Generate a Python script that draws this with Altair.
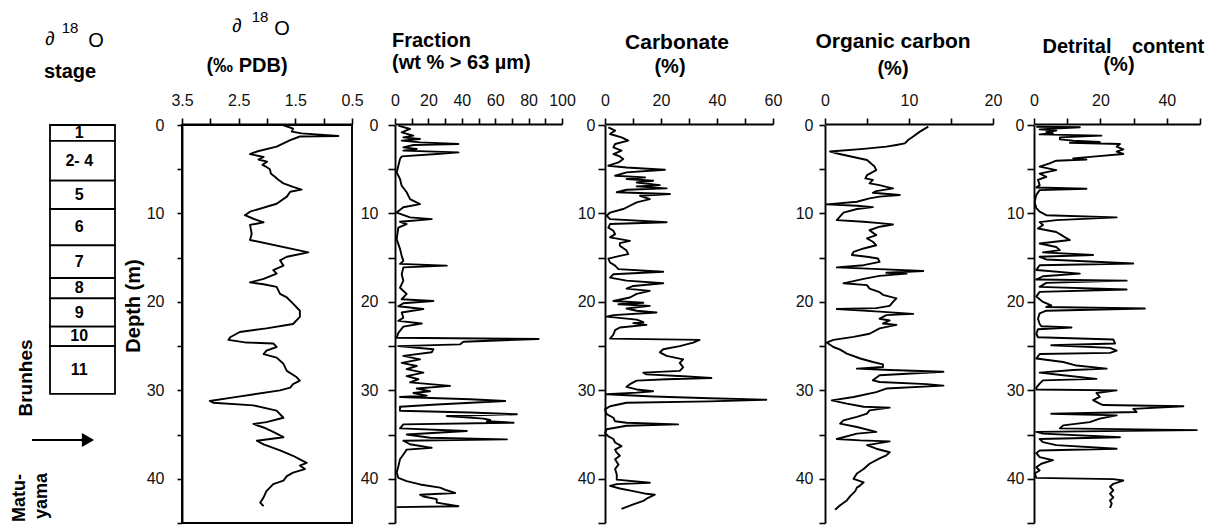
import altair as alt
import pandas as pd

FONT = "Liberation Sans"

# Oxygen-isotope stages (depth intervals in m)
stage_names = ["1", "2- 4", "5", "6", "7", "8", "9", "10", "11"]
stage_top = [0.0, 1.8, 6.3, 9.5, 13.6, 17.3, 19.6, 22.8, 25.0]
stage_bottom = [1.8, 6.3, 9.5, 13.6, 17.3, 19.6, 22.8, 25.0, 30.4]

# Down-core profiles: (depth m, value)
d18o = [
    (0.0, 1.72), (0.4, 1.54), (0.75, 1.56), (0.95, 1.39), (1.25, 0.74), (1.3, 1.42),
    (1.7, 1.59), (2.45, 1.83), (3.0, 2.18), (3.3, 2.30), (3.6, 2.06), (3.9, 2.15),
    (4.15, 2.00), (4.5, 2.08), (4.7, 2.02), (5.0, 1.95), (5.5, 1.93), (5.9, 1.85),
    (6.2, 1.80), (6.6, 1.71), (7.0, 1.54), (7.3, 1.39), (7.55, 1.59), (8.1, 1.65),
    (8.9, 1.83), (9.8, 2.30), (10.2, 2.39), (10.6, 2.24), (11.0, 2.06), (11.3, 2.30),
    (12.3, 2.27), (13.0, 2.30), (14.4, 1.27), (14.9, 1.65), (15.3, 1.77), (15.9, 1.71),
    (16.4, 1.89), (16.8, 1.83), (17.4, 2.06), (17.8, 2.30), (18.0, 2.06), (18.3, 1.83),
    (19.1, 1.77), (19.5, 1.65), (20.2, 1.54), (21.0, 1.42), (21.7, 1.42), (22.5, 1.54),
    (23.0, 2.01), (23.4, 2.48), (24.0, 2.65), (24.3, 2.68), (24.6, 2.36), (24.7, 1.89),
    (25.1, 1.83), (25.5, 2.01), (25.9, 2.06), (26.3, 1.83), (27.0, 1.71), (27.8, 1.65),
    (28.5, 1.48), (28.9, 1.42), (29.3, 1.54), (29.7, 1.59), (30.0, 1.77), (30.8, 2.59),
    (31.2, 3.01), (31.4, 2.95), (31.7, 2.24), (32.3, 1.83), (33.1, 1.71), (33.6, 2.01),
    (33.8, 2.24), (34.2, 2.06), (34.7, 1.89), (35.3, 1.71), (35.7, 2.18), (36.1, 2.06),
    (36.8, 1.77), (37.4, 1.54), (37.8, 1.42), (38.2, 1.30), (38.5, 1.42), (38.9, 1.33),
    (39.3, 1.54), (39.7, 1.65), (40.2, 1.71), (40.6, 1.89), (41.4, 2.01), (42.1, 2.06),
    (42.7, 2.12), (43.1, 2.06),
]

fraction = [
    (0.08, 2), (0.45, 9), (0.83, 4), (1.2, 11), (1.4, 5), (1.58, 15), (1.77, 4),
    (1.96, 15), (2.15, 38), (2.26, 11), (2.53, 5), (2.72, 13), (2.9, 5), (3.1, 38),
    (3.28, 25), (3.55, 4), (3.85, 3), (4.6, 2), (5.36, 1), (6.1, 3), (6.87, 4),
    (7.6, 7), (8.38, 9), (8.94, 15), (9.3, 5), (9.9, 1), (10.45, 9), (10.64, 22),
    (10.94, 3), (11.2, 7), (11.6, 2), (12.9, 1), (14.0, 3), (14.8, 4), (15.36, 5),
    (15.7, 3), (15.9, 31), (16.1, 5), (16.87, 4), (17.6, 5), (18.4, 3), (19.1, 7),
    (19.7, 4), (19.9, 23), (20.15, 5), (20.5, 2), (20.8, 17), (21.2, 4), (21.8, 5),
    (22.15, 2), (22.45, 16), (22.8, 5), (23.5, 2), (24.05, 1), (24.2, 86), (24.5, 41),
    (24.8, 39), (25.0, 2), (25.36, 23), (25.7, 22), (26.1, 5), (26.5, 15), (26.9, 4),
    (27.25, 13), (27.6, 7), (28.0, 17), (28.4, 7), (28.75, 14), (29.1, 9), (29.5, 33),
    (29.8, 13), (30.1, 21), (30.3, 11), (30.6, 19), (30.75, 3), (31.0, 45), (31.2, 66),
    (31.6, 25), (31.85, 3), (32.3, 3), (32.5, 45), (32.7, 73), (32.9, 31), (33.2, 53),
    (33.36, 57), (33.5, 55), (33.66, 71), (33.85, 5), (34.3, 3), (34.6, 43), (34.8, 25),
    (35.0, 7), (35.36, 21), (35.55, 67), (35.7, 5), (36.1, 9), (36.5, 22), (36.7, 7),
    (37.25, 5), (37.8, 3), (38.6, 2), (39.3, 1), (39.9, 2), (40.26, 7), (40.64, 15),
    (41.0, 27), (41.3, 31), (41.6, 36), (41.8, 15), (42.0, 17), (42.3, 25), (42.7, 25),
    (43.1, 38), (43.2, 1),
]

carbonate = [
    (0.26, 1.2), (0.64, 3.6), (1.02, 1.8), (1.4, 5.9), (1.77, 8.3), (2.15, 3.6),
    (2.53, 3.0), (2.9, 5.9), (3.28, 3.0), (3.55, 5.3), (3.85, 6.5), (4.23, 4.8),
    (4.6, 1.2), (4.8, 7.7), (5.06, 21.4), (5.36, 7.7), (5.74, 3.6), (5.92, 14.3),
    (6.1, 7.7), (6.3, 17.2), (6.5, 11.3), (6.8, 19.6), (6.94, 11.3), (7.17, 22.0),
    (7.32, 7.7), (7.6, 4.2), (7.8, 23.2), (8.0, 12.5), (8.38, 16.0), (8.75, 11.3),
    (9.13, 8.9), (9.5, 6.5), (9.9, 1.8), (10.26, 0.6), (10.64, 1.8), (11.0, 22.0),
    (11.2, 1.8), (11.6, 1.2), (11.96, 3.0), (12.34, 3.6), (12.7, 1.8), (13.1, 8.9),
    (13.36, 5.3), (13.66, 5.3), (14.2, 7.7), (14.6, 8.3), (14.8, 5.3), (15.1, 1.2),
    (15.55, 1.8), (15.9, 3.6), (16.3, 4.8), (16.6, 20.8), (16.87, 3.0), (17.25, 1.8),
    (17.6, 7.7), (17.9, 20.8), (18.2, 10.1), (18.5, 7.7), (18.75, 16.0), (19.1, 11.3),
    (19.5, 8.9), (19.9, 3.0), (20.1, 13.7), (20.26, 4.8), (20.45, 16.0), (20.75, 7.7),
    (21.0, 11.3), (21.2, 18.4), (21.5, 3.0), (21.66, 0.6), (22.0, 11.3), (22.3, 13.7),
    (22.4, 10.1), (22.6, 14.8), (22.9, 5.3), (23.2, 3.6), (23.7, 3.0), (24.15, 1.8),
    (24.3, 33.8), (24.6, 31.5), (25.0, 26.7), (25.36, 20.8), (25.7, 19.6), (26.1, 22.0),
    (26.5, 27.9), (26.9, 26.7), (27.4, 27.9), (27.8, 26.7), (28.0, 13.7), (28.2, 14.8),
    (28.4, 27.9), (28.6, 38.0), (28.75, 22.0), (28.9, 11.3), (29.3, 8.9), (29.6, 7.7),
    (29.9, 11.3), (30.1, 17.2), (30.26, 11.3), (30.45, 0.6), (30.7, 17.2), (30.9, 37.4),
    (31.06, 57.6), (31.25, 37.4), (31.4, 7.7), (31.8, 1.8), (32.15, 0.0), (32.7, 0.6),
    (33.1, 3.0), (33.5, 3.6), (33.66, 7.7), (33.85, 26.1), (34.0, 7.7), (34.4, 0.6),
    (34.8, 0.0), (35.2, 1.2), (35.5, 3.0), (35.9, 3.6), (36.3, 5.9), (36.7, 3.6),
    (37.05, 4.2), (37.4, 5.3), (37.8, 3.6), (38.4, 4.8), (38.9, 3.6), (39.5, 4.2),
    (40.1, 4.2), (40.45, 16.0), (40.6, 4.2), (40.8, 1.8), (41.1, 5.3), (41.4, 10.1),
    (41.7, 14.8), (41.8, 17.8), (42.15, 15.4), (42.5, 13.7), (42.9, 10.1), (43.4, 5.9),
]

organic_carbon = [
    (0.19, 12.3), (0.75, 11.3), (1.3, 10.5), (1.7, 9.9), (2.08, 9.5), (2.26, 8.5),
    (2.45, 7.3), (2.7, 4.6), (3.0, 0.6), (3.25, 1.6), (3.96, 5.0), (4.7, 5.9),
    (5.1, 6.1), (5.66, 5.0), (6.04, 4.8), (6.2, 5.7), (6.6, 5.3), (6.8, 6.5),
    (7.0, 7.3), (7.17, 8.1), (7.47, 6.1), (7.66, 5.7), (7.92, 8.9), (8.1, 6.5),
    (8.3, 5.3), (8.68, 3.8), (8.98, 0.2), (9.13, 3.8), (9.28, 5.7), (9.5, 3.8),
    (9.9, 2.2), (10.75, 1.4), (10.94, 4.6), (11.1, 6.5), (11.25, 8.1), (11.5, 6.5),
    (11.9, 5.3), (12.45, 6.1), (12.83, 5.0), (13.2, 5.7), (13.6, 6.1), (13.96, 4.6),
    (14.34, 3.4), (14.7, 3.2), (14.9, 5.0), (15.1, 6.3), (15.47, 6.5), (15.85, 4.6),
    (16.1, 1.4), (16.3, 6.5), (16.5, 11.7), (16.7, 7.3), (16.8, 9.7), (17.06, 6.5),
    (17.4, 4.6), (17.9, 2.2), (18.1, 5.0), (18.5, 5.3), (18.9, 6.5), (19.2, 6.9),
    (19.4, 7.7), (19.6, 8.5), (20.0, 8.1), (20.45, 7.7), (20.7, 6.1), (20.8, 1.4),
    (21.1, 6.5), (21.36, 10.5), (21.5, 7.3), (21.9, 6.5), (22.1, 7.7), (22.45, 6.9),
    (22.6, 8.5), (23.0, 6.5), (23.6, 5.3), (23.96, 3.4), (24.3, 1.0), (24.6, 0.2),
    (25.1, 1.0), (25.4, 1.8), (25.85, 2.6), (26.4, 4.2), (26.8, 5.7), (27.06, 6.9),
    (27.36, 6.9), (27.55, 3.8), (27.7, 7.7), (27.9, 14.1), (28.3, 6.5), (28.87, 5.7),
    (29.06, 6.5), (29.3, 12.1), (29.47, 14.1), (29.8, 7.3), (30.2, 6.1), (30.75, 3.4),
    (31.13, 0.8), (31.5, 2.6), (31.85, 4.6), (31.96, 7.7), (32.26, 5.3), (32.64, 5.0),
    (33.0, 3.8), (33.4, 2.2), (33.77, 1.8), (34.15, 3.8), (34.7, 6.1), (34.9, 3.8),
    (35.5, 1.4), (35.66, 4.2), (35.77, 7.7), (36.2, 5.0), (36.6, 6.1), (37.0, 7.7),
    (37.36, 7.3), (37.7, 6.5), (38.3, 5.3), (38.9, 4.6), (39.4, 3.8), (40.0, 3.4),
    (40.4, 4.6), (40.75, 4.2), (41.0, 3.8), (41.4, 3.6), (41.96, 3.0), (42.45, 2.6),
    (43.0, 1.8), (43.5, 1.2),
]

detrital = [
    (0.19, 0.7), (0.26, 13.8), (0.5, 1.7), (0.64, 6.7), (0.8, 3.7), (0.94, 5.7),
    (1.06, 1.7), (1.2, 20.3), (1.4, 7.8), (1.62, 7.8), (1.77, 11.8), (1.92, 19.8),
    (2.0, 10.8), (2.15, 25.9), (2.45, 24.9), (2.75, 26.9), (3.0, 24.9), (3.28, 26.9),
    (3.58, 17.8), (3.77, 11.8), (3.9, 15.8), (4.04, 6.7), (4.34, 4.7), (4.7, 1.7),
    (5.1, 6.7), (5.5, 1.7), (5.85, 3.7), (6.2, 1.2), (6.8, 1.7), (7.06, 0.7),
    (7.2, 15.8), (7.36, 1.7), (7.9, 0.7), (8.7, 0.2), (9.4, 0.7), (9.8, 1.7),
    (10.2, 3.7), (10.45, 24.9), (10.75, 6.7), (10.98, 1.7), (11.3, 2.7), (11.7, 1.2),
    (12.1, 6.7), (12.45, 8.3), (12.8, 9.8), (13.0, 10.8), (13.4, 1.7), (13.8, 6.7),
    (14.15, 7.8), (14.4, 2.7), (14.7, 17.8), (14.9, 1.7), (15.2, 3.7), (15.66, 29.9),
    (15.85, 1.7), (16.4, 0.7), (16.8, 13.8), (17.1, 2.7), (17.47, 0.7), (17.6, 27.9),
    (17.85, 3.7), (18.3, 1.7), (18.6, 27.9), (18.87, 1.7), (19.4, 0.7), (20.0, 2.7),
    (20.4, 5.2), (20.57, 3.7), (20.75, 33.4), (21.0, 3.7), (21.3, 1.7), (21.9, 1.2),
    (22.5, 1.7), (22.75, 2.2), (22.9, 11.3), (23.1, 1.2), (23.6, 0.7), (24.0, 1.2),
    (24.26, 23.9), (24.7, 24.4), (24.9, 5.2), (25.2, 22.9), (25.5, 24.9), (25.77, 22.9),
    (25.9, 1.7), (26.4, 0.7), (26.8, 8.8), (27.2, 12.8), (27.55, 21.9), (27.7, 11.8),
    (28.0, 1.7), (28.3, 8.8), (28.7, 18.8), (28.87, 2.7), (29.25, 1.7), (29.7, 0.7),
    (29.9, 0.7), (30.0, 24.9), (30.3, 18.8), (30.75, 19.8), (31.1, 17.8), (31.5, 19.8),
    (31.66, 20.8), (31.8, 45.0), (32.1, 29.9), (32.45, 30.9), (32.64, 5.2), (32.83, 24.9),
    (33.2, 19.8), (33.6, 16.8), (33.96, 8.8), (34.3, 7.8), (34.5, 49.0), (34.7, 0.7),
    (34.9, 2.7), (35.3, 25.9), (35.5, 1.7), (35.85, 2.7), (36.2, 6.7), (36.6, 24.9),
    (36.8, 1.7), (37.1, 0.7), (37.55, 1.7), (37.9, 5.7), (38.3, 2.2), (38.7, 0.7),
    (39.06, 1.7), (39.4, 0.2), (39.9, 0.7), (40.04, 23.9), (40.2, 26.9), (40.57, 23.9),
    (40.9, 22.9), (41.3, 23.9), (41.7, 22.9), (42.1, 23.9), (42.45, 22.9), (42.8, 23.4),
    (43.3, 22.9),
]

depth_ticks = [0, 5, 10, 15, 20, 25, 30, 35, 40, 45]
one_row = pd.DataFrame({"k": [0]})

AXIS_STYLE = dict(
    title=None, grid=False, labelFlush=False, labelOverlap=False,
    domainColor="black", domainWidth=1.9, tickColor="black", tickWidth=1.6,
    labelColor="#111111", labelFont=FONT, labelFontSize=16,
)


def depth_scale():
    return alt.Scale(domain=[0, 45], range=[125, 523], nice=False, zero=False)


def profile(pairs):
    return pd.DataFrame({
        "i": list(range(len(pairs))),
        "depth": [p[0] for p in pairs],
        "value": [p[1] for p in pairs],
    })


def panel(pairs, xscale, xticks, xlabel_expr, fmt, left, tick, pad):
    x_axis = alt.Axis(orient="top", offset=-124, values=xticks, labelExpr=xlabel_expr,
                      format=fmt, tickSize=6, labelPadding=10, **AXIS_STYLE)
    y_axis = alt.Axis(orient="left", offset=-left, values=depth_ticks,
                      labelExpr="datum.value % 10 == 0 ? datum.label : ''",
                      format="d", tickSize=tick, labelPadding=pad, **AXIS_STYLE)
    return alt.Chart(profile(pairs)).mark_line(
        color="black", strokeWidth=1.9, strokeJoin="round"
    ).encode(
        x=alt.X("value:Q", scale=xscale, axis=x_axis),
        y=alt.Y("depth:Q", scale=depth_scale(), axis=y_axis),
        order="i:Q",
    )


def text(s, x, y, size=20, weight="bold", align="center", angle=0):
    return alt.Chart(one_row).mark_text(
        text=s, font=FONT, fontSize=size, fontWeight=weight, align=align,
        baseline="alphabetic", angle=angle, color="black",
    ).encode(x=alt.value(x), y=alt.value(y))


d18o_scale = alt.Scale(domain=[0.5, 3.5], range=[352, 182], nice=False, zero=False)
stage_scale = alt.Scale(domain=[0, 1], range=[50, 115], nice=False, zero=False)

p1 = panel(d18o, d18o_scale, [0.5, 1.0, 1.5, 2.0, 2.5, 3.0, 3.5],
           "(datum.value * 2) % 2 == 1 ? datum.label : ''", ".1f", 182, 5, 13)
p2 = panel(fraction, alt.Scale(domain=[0, 100], range=[395, 562], nice=False, zero=False),
           list(range(0, 101, 10)), "datum.value % 20 == 0 ? datum.label : ''", "d", 395, 7, 10)
p3 = panel(carbonate, alt.Scale(domain=[0, 60], range=[605, 773], nice=False, zero=False),
           list(range(0, 61, 10)), "datum.value % 20 == 0 ? datum.label : ''", "d", 605, 7, 3)
p4 = panel(organic_carbon, alt.Scale(domain=[0, 20], range=[825, 993], nice=False, zero=False),
           [0, 5, 10, 15, 20], "datum.value % 10 == 0 ? datum.label : ''", "d", 825, 6, 6)
p5 = panel(detrital, alt.Scale(domain=[0, 50], range=[1034, 1200], nice=False, zero=False),
           list(range(0, 51, 10)), "datum.value % 20 == 0 ? datum.label : ''", "d", 1034, 7, 3)

# right and bottom edges of the isotope panel frame
frame = alt.Chart(one_row).mark_rect(filled=False, color="black", strokeWidth=1.9).encode(
    x=alt.XDatum(3.5, scale=d18o_scale, axis=None),
    x2=alt.X2Datum(0.5),
    y=alt.YDatum(0, scale=depth_scale(), axis=None),
    y2=alt.Y2Datum(45),
)

stages = pd.DataFrame({"stage": stage_names, "top": stage_top, "bottom": stage_bottom})
stage_boxes = alt.Chart(stages).mark_rect(fill="white", stroke="black", strokeWidth=1.8).encode(
    x=alt.XDatum(0, scale=stage_scale, axis=None),
    x2=alt.X2Datum(1),
    y=alt.Y("top:Q", scale=depth_scale(), axis=None),
    y2="bottom:Q",
)
stage_text = alt.Chart(stages).transform_calculate(
    mid="(datum.top + datum.bottom) / 2"
).mark_text(font=FONT, fontSize=16, fontWeight="bold", baseline="middle", color="black").encode(
    x=alt.XDatum(0.45, scale=stage_scale, axis=None),
    y=alt.Y("mid:Q", scale=depth_scale(), axis=None),
    text="stage:N",
)

# Brunhes / Matuyama boundary arrow
arrow_line = alt.Chart(one_row).mark_rule(color="black", strokeWidth=2).encode(
    x=alt.value(32), x2=alt.value(86), y=alt.value(440)
)
arrow_head = alt.Chart(one_row).mark_point(
    shape="triangle-right", filled=True, color="black", size=200, opacity=1
).encode(x=alt.value(88), y=alt.value(440))

labels = [
    # stage column heading
    text("\u2202", 50, 45, size=19, weight="normal"),
    text("18", 70, 33, size=15, weight="normal"),
    text("O", 96, 47, size=20, weight="normal"),
    text("stage", 70, 78),
    # isotope heading
    text("\u2202", 237, 32, size=19, weight="normal"),
    text("18", 260, 22, size=15, weight="normal"),
    text("O", 282, 35, size=20, weight="normal"),
    text("(\u2030 PDB)", 247, 72),
    # other headings
    text("Fraction", 392, 47, align="left"),
    text("(wt % > 63 \u00b5m)", 392, 69, align="left"),
    text("Carbonate", 677, 49, size=21),
    text("(%)", 670, 73),
    text("Organic carbon", 893, 48, size=21),
    text("(%)", 893, 75),
    text("Detrital", 1077, 53),
    text("content", 1168, 53),
    text("(%)", 1119, 71),
    # rotated side labels
    text("Depth (m)", 140, 306, angle=270),
    text("Brunhes", 32, 378, size=19, angle=270),
    text("Matu-", 25, 498, size=18, angle=270),
    text("yama", 47, 496, size=18, angle=270),
]

chart = alt.layer(
    stage_boxes, stage_text, frame, p1, p2, p3, p4, p5, arrow_line, arrow_head, *labels
).resolve_scale(
    x="independent", y="independent"
).resolve_axis(
    x="independent", y="independent"
).properties(
    width=1211, height=527, autosize=alt.AutoSizeParams(type="none"), padding=0,
    background="white",
).configure_view(stroke=None)

chart.save("out.html", embed_options={"renderer": "svg", "actions": False})
